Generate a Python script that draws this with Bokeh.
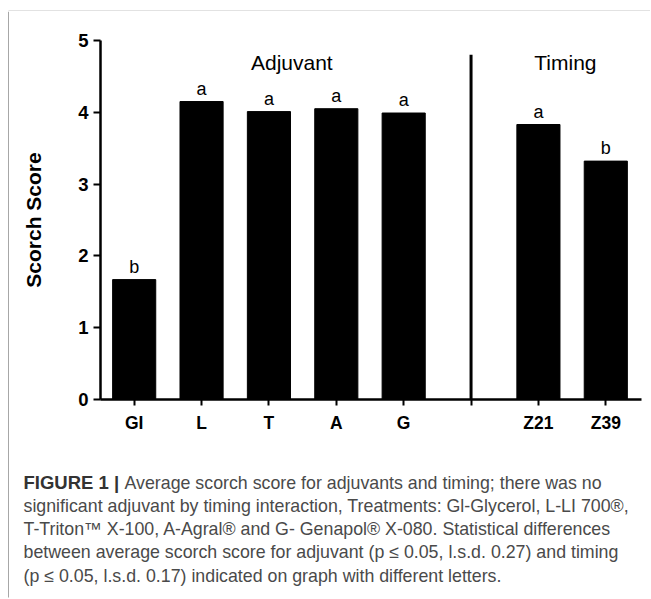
from bokeh.plotting import figure
from bokeh.models import Range1d, FixedTicker, ColumnDataSource
from bokeh.layouts import column, row
from bokeh.embed import file_html
from bokeh.resources import INLINE
from bokeh.core.properties import value

# ---- data ----
treatments = ["GI", "L", "T", "A", "G"]
treatment_scores = [1.67, 4.15, 4.01, 4.05, 3.99]
treatment_letters = ["b", "a", "a", "a", "a"]
timings = ["Z21", "Z39"]
timing_scores = [3.83, 3.32]
timing_letters = ["a", "b"]
group_names = ["Adjuvant", "Timing"]
y_ticks = [0, 1, 2, 3, 4, 5]
y_label = "Scorch Score"
caption_bold = "FIGURE 1 |"
caption_first = "Average scorch score for adjuvants and timing; there was no"
caption_rest = [
    "significant adjuvant by timing interaction, Treatments: Gl-Glycerol, L-LI 700\u00ae,",
    "T-Triton\u2122 X-100, A-Agral\u00ae and G- Genapol\u00ae X-080. Statistical differences",
    "between average scorch score for adjuvant (p \u2264 0.05, l.s.d. 0.27) and timing",
    "(p \u2264 0.05, l.s.d. 0.17) indicated on graph with different letters.",
]

# ---- positions ----
n_t = len(treatments)
sep_pos = n_t
pos = list(range(n_t)) + [n_t + 1 + i for i in range(len(timings))]
labels = treatments + timings
scores = treatment_scores + timing_scores
letters = treatment_letters + timing_letters

FONT = value("Liberation Sans")
GREY = "#8a8a8a"

TOP_H = 11
LEFT_W = 9
CHART_W, CHART_H = 641, 454
CAP_H = 133


def blank(w, h, xr, yr):
    f = figure(width=w, height=h, x_range=xr, y_range=yr, output_backend="svg",
               toolbar_location=None, x_axis_type=None, y_axis_type=None, min_border=0)
    f.frame_align = False
    f.outline_line_color = None
    f.grid.visible = False
    return f


# ---- grey frame strips ----
top = blank(LEFT_W + CHART_W, TOP_H, Range1d(0, LEFT_W + CHART_W), Range1d(TOP_H, 0))
top.segment(x0=[8], y0=[10], x1=[LEFT_W + CHART_W], y1=[10], line_color=GREY, line_width=1.5)
top.segment(x0=[8.5], y0=[10], x1=[8.5], y1=[TOP_H], line_color=GREY, line_width=1.5)

left = blank(LEFT_W, CHART_H + CAP_H, Range1d(0, LEFT_W), Range1d(CHART_H + CAP_H, 0))
left.segment(x0=[8.5], y0=[0], x1=[8.5], y1=[CHART_H + CAP_H - 1], line_color=GREY, line_width=1.5)

# ---- chart ----
p = figure(width=CHART_W, height=CHART_H, x_range=Range1d(-0.5, 7.53), y_range=Range1d(0, 5),
           output_backend="svg", toolbar_location=None,
           min_border_left=91, min_border_right=9, min_border_top=29, min_border_bottom=66)
p.frame_align = False
p.outline_line_color = None
p.grid.visible = False

src = ColumnDataSource(dict(x=pos, top=scores, letter=letters))
p.vbar(x="x", top="top", width=0.64, source=src, fill_color="black", line_color="black")
p.text(x="x", y="top", text="letter", source=src, text_align="center",
       text_baseline="alphabetic", y_offset=-13, text_font_size="18px",
       text_font=FONT, text_color="black")

# separator between groups
p.segment(x0=[sep_pos], y0=[0], x1=[sep_pos], y1=[4.80], line_width=3, line_color="black")

# group titles
adj_center = (n_t - 1) / 2 + 0.34
tim_center = (pos[n_t] + pos[-1]) / 2 - 0.1
p.text(x=[adj_center, tim_center], y=[4.70, 4.70], text=group_names, text_align="center",
       text_baseline="alphabetic", text_font_size="21px", text_font=FONT, text_color="black")

xa = p.xaxis[0]
xa.ticker = FixedTicker(ticks=pos + [sep_pos])
xa.major_label_overrides = {**{x: l for x, l in zip(pos, labels)}, sep_pos: ""}
ya = p.yaxis[0]
ya.ticker = FixedTicker(ticks=y_ticks)
ya.axis_label = y_label
for ax in (xa, ya):
    ax.axis_line_width = 2.5
    ax.axis_line_color = "black"
    ax.major_tick_line_width = 2
    ax.major_tick_line_color = "black"
    ax.major_tick_in = 0
    ax.minor_tick_line_color = None
    ax.major_label_text_font = "Liberation Sans"
    ax.major_label_text_font_style = "bold"
    ax.major_label_text_color = "black"
xa.major_tick_out = 6
xa.major_label_standoff = 7
xa.major_label_text_font_size = "17.5px"
ya.major_tick_out = 7
ya.major_label_standoff = 5
ya.major_label_text_font_size = "18.5px"
ya.axis_label_text_font = "Liberation Sans"
ya.axis_label_text_font_style = "bold"
ya.axis_label_text_font_size = "21px"
ya.axis_label_text_color = "black"
ya.axis_label_standoff = 30

# ---- caption ----
cap = blank(CHART_W, CAP_H, Range1d(0, CHART_W), Range1d(CAP_H, 0))
CFONT = value("Liberation Sans")
CAP_SIZE = "17.8px"
base0 = 17
step = 23.3
cap.text(x=[14], y=[base0], text=[caption_bold], text_font=CFONT, text_font_style="bold",
         text_font_size="18.5px", text_baseline="alphabetic", text_color="#333333")
cap.text(x=[115], y=[base0], text=[caption_first], text_font=CFONT,
         text_font_size=CAP_SIZE, text_baseline="alphabetic", text_color="#4a4a4a")
cap.text(x=[14] * len(caption_rest), y=[base0 + step * (i + 1) for i in range(len(caption_rest))],
         text=caption_rest, text_font=CFONT, text_font_size=CAP_SIZE,
         text_baseline="alphabetic", text_color="#4a4a4a")

layout = column(top, row(left, column(p, cap, spacing=0), spacing=0), spacing=0)

open("out.html", "w").write(file_html(layout, INLINE))
